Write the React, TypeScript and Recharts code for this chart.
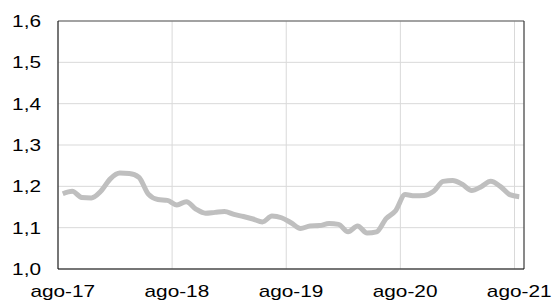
import { LineChart, Line, XAxis, YAxis, CartesianGrid, ReferenceLine } from 'recharts'

// monthly ratio, ago-17 .. ago-21
const values = [
  1.182, 1.188, 1.173, 1.172, 1.188, 1.218, 1.232, 1.231, 1.222, 1.181,
  1.168, 1.166, 1.155, 1.163, 1.145, 1.135, 1.137, 1.139, 1.132, 1.127,
  1.121, 1.114, 1.128, 1.124, 1.112, 1.098, 1.104, 1.105, 1.110, 1.108,
  1.090, 1.104, 1.087, 1.090, 1.122, 1.141, 1.180, 1.177, 1.178, 1.188,
  1.212, 1.214, 1.205, 1.190, 1.199, 1.212, 1.200, 1.180, 1.175
]

const xTicks = [0, 12, 24, 36, 48]
const xLabels = ['ago-17', 'ago-18', 'ago-19', 'ago-20', 'ago-21']
const yTicks = [1.0, 1.1, 1.2, 1.3, 1.4, 1.5, 1.6]

// points sit in the middle of each month, like an Excel date axis
const data = values.map((v, i) => ({ m: i + 0.5, v }))

const FONT = 'Liberation Sans, Arial, sans-serif'

function XTick({ x, y, payload }: any) {
  const label = xLabels[xTicks.indexOf(payload.value)]
  return (
    <text
      transform={`translate(${x + 4.75},${y + 20}) scale(1.3,1)`}
      textAnchor="middle"
      fontSize={16}
      fontFamily={FONT}
      fill="#000"
    >
      {label}
    </text>
  )
}

function YTick({ x, y, payload }: any) {
  return (
    <text
      transform={`translate(${x - 9},${y + 6}) scale(1.3,1)`}
      textAnchor="end"
      fontSize={16}
      fontFamily={FONT}
      fill="#000"
    >
      {payload.value.toFixed(1).replace('.', ',')}
    </text>
  )
}

export default function App() {
  return (
    <div style={{ position: 'absolute', left: 0, top: 0 }}>
      <LineChart
        width={554}
        height={301}
        data={data}
        margin={{ top: 21, right: 30, bottom: 0, left: 0 }}
      >
        <CartesianGrid stroke="#D9D9D9" />
        <XAxis
          type="number"
          dataKey="m"
          domain={[0, 49]}
          ticks={xTicks}
          tick={<XTick />}
          tickLine={false}
          axisLine={{ stroke: '#000' }}
          height={32}
        />
        <YAxis
          type="number"
          domain={[1, 1.6]}
          ticks={yTicks}
          tick={<YTick />}
          tickLine={false}
          axisLine={{ stroke: '#000' }}
          width={58}
        />
        <ReferenceLine y={1.6} stroke="#595959" />
        <ReferenceLine x={49} stroke="#262626" />
        <Line
          type="monotone"
          dataKey="v"
          stroke="#BFBFBF"
          strokeWidth={5}
          strokeLinejoin="round"
          dot={false}
          activeDot={false}
          isAnimationActive={false}
        />
      </LineChart>
    </div>
  )
}
